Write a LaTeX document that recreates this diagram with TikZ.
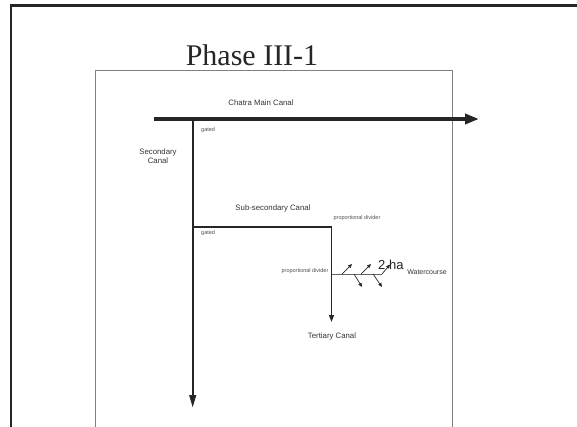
\documentclass[tikz,border=0pt]{standalone}
\usepackage{fontspec}
\setmainfont{Liberation Sans}
\newfontfamily\titlefont{Liberation Serif}
\usetikzlibrary{arrows.meta,positioning}
\tikzset{
  fx/.style={x=1pt, y=-1pt, font=\fontsize{7.8}{9}\selectfont},
  w frame/.style={draw=black!85, line width=2.6pt},
  w sheet/.style={draw=black!50, line width=0.8pt},
  w title/.style={font=\titlefont\fontsize{30}{32}\selectfont, text=black!85, inner sep=0pt},
  w lbl/.style={font=\fontsize{7.8}{9}\selectfont, text=black!80, align=center, inner sep=0pt},
  w tiny/.style={font=\fontsize{5.5}{6}\selectfont, text=black!70, inner sep=0pt},
  w big/.style={font=\fontsize{13}{14}\selectfont, text=black!85, inner sep=0pt},
  w main/.style={draw=black!85, line width=3.8pt, -{Triangle[length=14pt, width=10pt]}},
  w sec/.style={draw=black!85, line width=2.4pt, -{Triangle[length=13pt, width=6.5pt]}},
  w sub/.style={draw=black!85, line width=1.2pt},
  w ter/.style={draw=black!85, line width=1.2pt, -{Triangle[length=7pt, width=5pt]}},
  w wc/.style={draw=black!60, line width=1pt},
  w out/.style={draw=black!85, line width=0.7pt, -{Triangle[length=4pt, width=3.4pt]}},
}
\begin{document}
\begin{tikzpicture}[fx]
\clip (0,0) rectangle (577,427);
\draw[w frame] (11,440) -- (11,5.5) -- (590,5.5);
\draw[w sheet] (95.7,440) -- (95.7,70.7) -- (452,70.7) -- (452,440);
\node[w title, anchor=base] (ttl) at (252,66) {Phase III-1};

\coordinate (m0) at (154,119);
\coordinate (m1) at (479,119);
\coordinate (sj) at (192.7,119);
\coordinate (s1) at (192.7,408);
\coordinate (bj) at (192.7,227);
\coordinate (tj) at (331.5,227);
\coordinate (t1) at (331.5,322);
\coordinate (wj) at (331.5,274);
\coordinate (w1) at (382,274);
\coordinate (a1) at (342,274); \coordinate (a1e) at (352,264);
\coordinate (a2) at (361,274); \coordinate (a2e) at (371,264);
\coordinate (a3e) at (390,264.5);
\coordinate (d1) at (354,274); \coordinate (d1e) at (362,287);
\coordinate (d2) at (373,274); \coordinate (d2e) at (382,287);

\draw[w main] (m0) -- (m1);
\draw[w sec] (sj) -- (s1);
\draw[w sub] (bj) -- (tj);
\draw[w ter] (tj) -- (t1);
\draw[w wc] (wj) -- (w1);
\draw[w out] (a1) -- (a1e); \draw[w out] (a2) -- (a2e); \draw[w out] (w1) -- (a3e);
\draw[w out] (d1) -- (d1e); \draw[w out] (d2) -- (d2e);

\node[w lbl] (mainlbl) at (261,103) {Chatra Main Canal};
\node[w lbl] (seclbl) at (158,156) {Secondary\\Canal};
\node[w lbl] (sublbl) at (273,208) {Sub-secondary Canal};
\node[w lbl] (terlbl) at (332,336) {Tertiary Canal};
\node[w lbl, font=\fontsize{7}{8}\selectfont] (wclbl) at (427,272) {Watercourse};
\node[w tiny, anchor=west] (gate1) at (201,130) {gated};
\node[w tiny, anchor=west] (gate2) at (201,233) {gated};
\node[w tiny] (pd1) at (357,218) {proportional divider};
\node[w tiny] (pd2) at (305,271) {proportional divider};
\node[w big, anchor=base west] (ha) at (378,269) {2 ha};
\end{tikzpicture}
\end{document}
